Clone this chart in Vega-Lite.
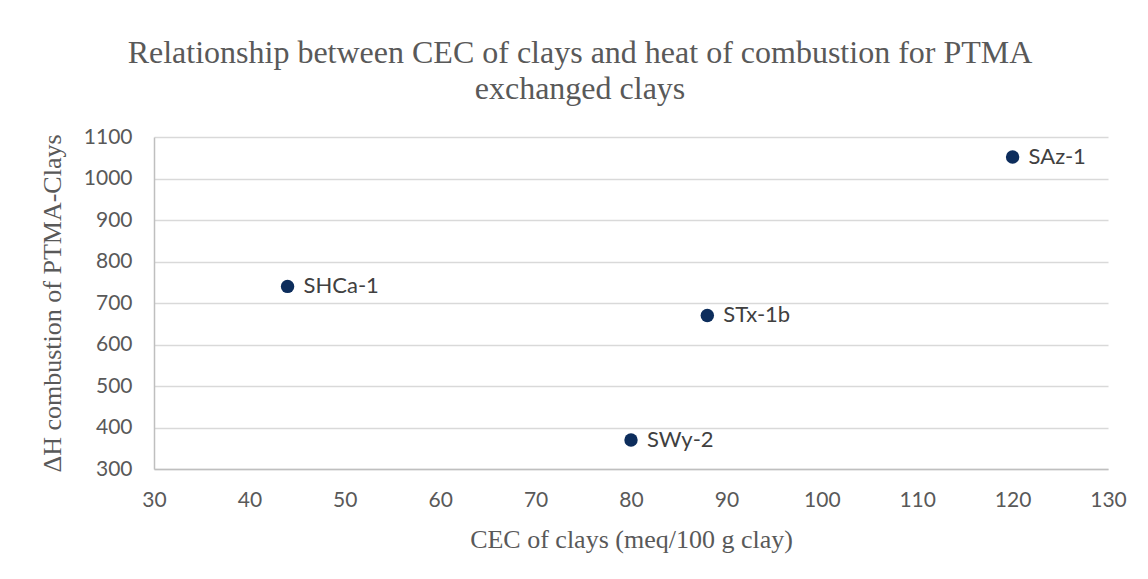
{
  "$schema": "https://vega.github.io/schema/vega-lite/v6.json",
  "autosize": "none",
  "width": 954,
  "height": 332,
  "padding": {"left": 154, "top": 137, "right": 40, "bottom": 110},
  "background": "white",
  "title": {
    "text": ["Relationship between CEC of clays and heat of combustion for PTMA", "exchanged clays"],
    "anchor": "middle",
    "dx": -51,
    "offset": 20,
    "font": "Liberation Serif",
    "fontSize": 32,
    "fontWeight": "normal",
    "color": "#595959",
    "lineHeight": 36
  },
  "data": {
    "values": [
      {"cec": 44, "dh": 740, "clay": "SHCa-1"},
      {"cec": 80, "dh": 370, "clay": "SWy-2"},
      {"cec": 88, "dh": 670, "clay": "STx-1b"},
      {"cec": 120, "dh": 1052, "clay": "SAz-1"}
    ]
  },
  "encoding": {
    "x": {
      "field": "cec", "type": "quantitative",
      "scale": {"domain": [30, 130], "nice": false, "zero": false},
      "axis": {
        "title": "CEC of clays (meq/100 g clay)",
        "values": [30, 40, 50, 60, 70, 80, 90, 100, 110, 120, 130],
        "format": "d",
        "grid": false,
        "ticks": false,
        "labelFlush": false,
        "domainColor": "#bfbfbf",
        "domainWidth": 1.5,
        "labelFont": "Lato",
        "labelFontSize": 21,
        "labelColor": "#595959",
        "labelPadding": 20,
        "titleFont": "Liberation Serif",
        "titleFontSize": 26,
        "titleFontWeight": "normal",
        "titleColor": "#595959",
        "titlePadding": 16
      }
    },
    "y": {
      "field": "dh", "type": "quantitative",
      "scale": {"domain": [300, 1100], "nice": false, "zero": false},
      "axis": {
        "title": "ΔH combustion of PTMA-Clays",
        "values": [300, 400, 500, 600, 700, 800, 900, 1000, 1100],
        "format": "d",
        "grid": true,
        "gridColor": "#d9d9d9",
        "gridWidth": 1.5,
        "ticks": false,
        "domainColor": "#bfbfbf",
        "domainWidth": 1.5,
        "labelFont": "Lato",
        "labelFontSize": 21,
        "labelColor": "#595959",
        "labelPadding": 22,
        "titleFont": "Liberation Serif",
        "titleFontSize": 26,
        "titleFontWeight": "normal",
        "titleColor": "#595959",
        "titlePadding": 18
      }
    }
  },
  "layer": [
    {
      "mark": {"type": "point", "filled": true, "opacity": 1, "size": 180, "color": "#0d2d5c"}
    },
    {
      "mark": {"type": "text", "align": "left", "baseline": "middle", "dx": 16, "font": "Lato", "fontSize": 22, "color": "#404040"},
      "encoding": {"text": {"field": "clay"}}
    }
  ],
  "config": {
    "view": {"stroke": null}
  }
}
